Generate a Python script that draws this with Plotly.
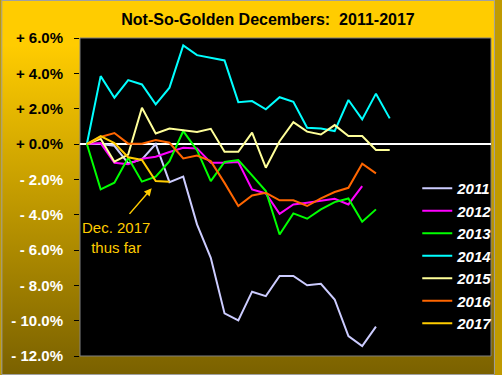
import base64
import plotly.graph_objects as go

# ---- data (percent change from end of November, per trading day) ----
trading_day = list(range(23))

y2011 = [0, 0.0, -0.1, -1.1, -0.87, 0.0, -2.16, -1.85, -4.55, -6.44, -9.59, -9.98,
         -8.36, -8.61, -7.47, -7.47, -8.0, -7.91, -8.8, -10.87, -11.44, -10.34]
y2012 = [0, 0.05, -1.06, -1.15, -0.83, -0.72, -0.45, -0.21, -0.25, -1.06, -1.06,
         -1.02, -2.57, -2.8, -3.95, -3.42, -3.32, -3.23, -3.1, -3.42, -2.38]
y2013 = [0, -2.57, -2.19, -0.78, -2.13, -1.85, -0.97, 0.73, -0.35, -2.1, -1.02,
         -0.91, -1.78, -2.66, -5.12, -3.93, -4.23, -3.7, -3.29, -3.08, -4.4, -3.7]
y2014 = [0, 3.84, 2.62, 3.62, 3.37, 2.24, 3.19, 5.58, 5.03, 4.88, 4.73, 2.37,
         2.43, 1.96, 2.65, 2.39, 0.92, 0.88, 0.73, 2.49, 1.39, 2.85, 1.45]
y2015 = [0, 0.3, -1.0, -0.6, 2.05, 0.6, 0.88, 0.77, 0.68, 0.86, -0.44, -0.44,
         0.64, -1.34, 0.16, 1.24, 0.7, 0.54, 1.07, 0.45, 0.45, -0.34, -0.34]
y2016 = [0, 0.4, 0.62, 0.02, 0.02, 0.22, 0.07, -0.82, -0.65, -0.97, -2.2, -3.51,
         -2.91, -2.76, -3.19, -3.19, -3.51, -3.08, -2.72, -2.48, -1.12, -1.66]
y2017 = [0, 0.45, 0.05, -0.75, -0.9, -2.1, -2.13]

years = ["2011", "2012", "2013", "2014", "2015", "2016", "2017"]
values = [y2011, y2012, y2013, y2014, y2015, y2016, y2017]
colors = ["#CCCCFF", "#FF00FF", "#00FF00", "#00FFFF", "#FFFF99", "#FF6600", "#FFCC00"]

tick_values = [6, 4, 2, 0, -2, -4, -6, -8, -10, -12]
tick_labels = ["+ 6.0%", "+ 4.0%", "+ 2.0%", "+ 0.0%", "- 2.0%", "- 4.0%",
               "- 6.0%", "- 8.0%", "- 10.0%", "- 12.0%"]

title_text = "Not-So-Golden Decembers:  2011-2017"
note_text = "Dec. 2017<br>thus far"

# ---- figure geometry ----
W, H = 502, 375
ML, MR, MT, MB = 80, 4, 38, 19
PW, PH = W - ML - MR, H - MT - MB

fig = go.Figure()
for name, ys, col in zip(years, values, colors):
    fig.add_trace(go.Scatter(
        x=trading_day[:len(ys)], y=ys, name=name, mode="lines",
        line=dict(color=col, width=2),
    ))

ticktext = [t if v >= 0 else '<span style="color:#FFFFFF">%s</span>' % t
            for v, t in zip(tick_values, tick_labels)]

svg = ('<svg xmlns="http://www.w3.org/2000/svg" width="%d" height="%d" '
       'preserveAspectRatio="none"><defs><linearGradient id="g" x1="0" y1="0" '
       'x2="0" y2="1"><stop offset="0" stop-color="#FFCC00"/>'
       '<stop offset="0.12" stop-color="#FFCC00"/>'
       '<stop offset="1" stop-color="#7A6100"/></linearGradient></defs>'
       '<rect width="%d" height="%d" fill="url(#g)"/></svg>') % (W, H, W, H)
src = "data:image/svg+xml;base64," + base64.b64encode(svg.encode()).decode()

fx0 = -ML / PW
fy1 = 1 + MT / PH

font_family = "Liberation Sans, Arial, sans-serif"

fig.update_layout(
    width=W, height=H,
    margin=dict(l=ML, r=MR, t=MT, b=MB, pad=0),
    paper_bgcolor="#C09A00",
    plot_bgcolor="#000000",
    font=dict(family=font_family),
    title=dict(text="<b>%s</b>" % title_text, x=268 / W, y=1 - 19 / H,
               xref="container", yref="container",
               xanchor="center", yanchor="middle",
               font=dict(size=16, color="#000000", family=font_family)),
    showlegend=True,
    legend=dict(x=(423 - ML) / PW, y=(MT + PH - 172) / PH, xanchor="left", yanchor="top",
                bgcolor="rgba(0,0,0,0)", borderwidth=0, tracegroupgap=0,
                itemwidth=30,
                font=dict(size=15, color="#FFFFFF", family=font_family,
                          weight="bold", style="italic")),
    xaxis=dict(range=[-0.5, (PW - 7) / 14], showticklabels=False, showgrid=False,
               zeroline=False, showline=False, ticks="", fixedrange=True),
    yaxis=dict(range=[-12, 6], tickvals=tick_values, ticktext=ticktext,
               ticks="outside", ticklen=5, tickcolor="#000000", tickwidth=1,
               ticklabelstandoff=8,
               tickfont=dict(size=15, color="#000000", family=font_family, weight="bold"),
               showgrid=False, zeroline=True, zerolinecolor="#FFFFFF", zerolinewidth=1.5,
               showline=False, fixedrange=True),
    images=[dict(source=src, xref="paper", yref="paper", x=fx0, y=fy1,
                 sizex=W / PW, sizey=H / PH, xanchor="left", yanchor="top",
                 sizing="stretch", layer="below")],
    shapes=[
        dict(type="rect", xref="paper", yref="paper", x0=0, x1=1, y0=0, y1=1,
             fillcolor="#000000", line=dict(color="#808080", width=1), layer="below"),
        dict(type="rect", xref="paper", yref="paper", x0=fx0 + 0.5 / PW,
             x1=1 + (MR - 0.5) / PW, y0=-(MB - 0.5) / PH, y1=fy1 - 0.5 / PH,
             fillcolor="rgba(0,0,0,0)", line=dict(color="#A0A0A0", width=1),
             layer="above"),
    ],
    annotations=[
        dict(x=4.71, y=-2.51, ax=3.0, ay=-4.04, axref="x", ayref="y",
             xref="x", yref="y", text="", showarrow=True, arrowhead=2,
             arrowsize=1, arrowwidth=1.5, arrowcolor="#FFCC00"),
        dict(x=2.1, y=-5.29, xref="x", yref="y", text=note_text, showarrow=False,
             font=dict(size=15, color="#FFCC00", family=font_family),
             align="center"),
    ],
)

fig.write_html("out.html", config={"displayModeBar": False},
               post_script="document.body.style.margin='0';document.body.style.overflow='hidden';")
